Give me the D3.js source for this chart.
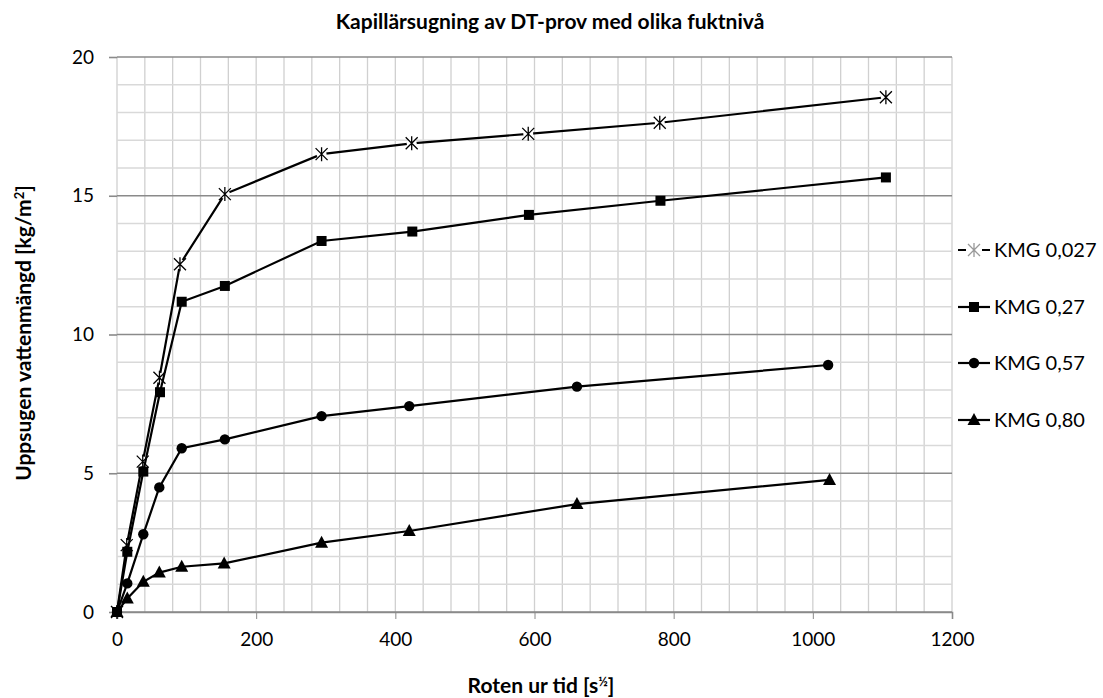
<!DOCTYPE html>
<html><head><meta charset="utf-8">
<script src="https://cdn.jsdelivr.net/npm/d3@7"></script>
<style>body{margin:0;background:#fff}svg{display:block}text{font-family:Lato,"Open Sans",sans-serif;fill:#000}</style>
</head><body>
<svg id="c" width="1103" height="698"></svg>
<script>
const seriesNames = ["KMG 0,027","KMG 0,27","KMG 0,57","KMG 0,80"];
const markerTypes = ["asterisk","square","circle","triangle"];
const xA = [0, 14, 37, 61, 90.5, 155, 294, 423.5, 591, 780, 1105];
const yA = [0, 2.41, 5.42, 8.44, 12.53, 15.06, 16.5, 16.89, 17.23, 17.63, 18.55];
const xB = [0, 14.8, 37.8, 61.8, 93, 155, 294, 424.4, 592, 781, 1105];
const yB = [0, 2.17, 5.06, 7.92, 11.18, 11.75, 13.37, 13.71, 14.31, 14.82, 15.66];
const xC = [0, 14.8, 37.8, 60.8, 93, 155, 294, 420, 661, 1022];
const yC = [0, 1.03, 2.80, 4.49, 5.90, 6.22, 7.06, 7.42, 8.12, 8.90];
const xD = [0, 14.8, 37.8, 60.8, 93, 154, 294, 420, 661, 1024];
const yD = [0, 0.49, 1.09, 1.42, 1.63, 1.75, 2.50, 2.92, 3.89, 4.76];
const xTicks = [0,200,400,600,800,1000,1200];
const yTicks = [0,5,10,15,20];
const title = "Kapillärsugning av DT-prov med olika fuktnivå";

const svg = d3.select("#c");
const x = d3.scaleLinear().domain([0,1200]).range([117,952]);
const y = d3.scaleLinear().domain([0,20]).range([612,57]);

// minor grid
const g = svg.append("g");
g.selectAll(".vx").data(d3.range(0,1201,40)).join("line")
  .attr("x1",d=>x(d)).attr("x2",d=>x(d)).attr("y1",y(0)).attr("y2",y(20))
  .attr("stroke","#d0d0d0").attr("stroke-width",1.3);
g.selectAll(".hy").data(d3.range(0,21,1).filter(d=>d%5!==0)).join("line")
  .attr("x1",x(0)).attr("x2",x(1200)).attr("y1",d=>y(d)).attr("y2",d=>y(d))
  .attr("stroke","#d9d9d9").attr("stroke-width",1.3);
g.selectAll(".hM").data(yTicks).join("line")
  .attr("x1",x(0)).attr("x2",x(1200)).attr("y1",d=>y(d)).attr("y2",d=>y(d))
  .attr("stroke","#8a8a8a").attr("stroke-width",1.6);

// axes
const xAxis = d3.axisBottom(x).tickValues(xTicks).tickSize(7).tickPadding(14).tickFormat(d3.format("d"));
const xg = svg.append("g").attr("transform",`translate(0,${y(0)})`).call(xAxis);
xg.select(".domain").attr("stroke","#8a8a8a").attr("stroke-width",1.6);
xg.selectAll(".tick line").attr("stroke","#8a8a8a");
xg.selectAll("text").attr("font-size",19).attr("font-family","Lato");
const yAxis = d3.axisLeft(y).tickValues(yTicks).tickSize(8).tickPadding(15);
const yg = svg.append("g").attr("transform",`translate(${x(0)},0)`).call(yAxis);
yg.select(".domain").remove();
yg.selectAll(".tick line").attr("stroke","#8a8a8a").attr("stroke-width",1.6);
yg.selectAll("text").attr("font-size",19).attr("font-family","Lato");

// series
const data = [[xA,yA],[xB,yB],[xC,yC],[xD,yD]];
const line = d3.line().x(d=>x(d[0])).y(d=>y(d[1]));
function drawMarker(sel, type, cx, cy, color){
  if(type==="asterisk"){
    const s=6;
    sel.append("path").attr("d",`M${cx-s},${cy-s}L${cx+s},${cy+s}M${cx-s},${cy+s}L${cx+s},${cy-s}M${cx},${cy-s-1}L${cx},${cy+s+1}`)
      .attr("stroke",color||"#000").attr("stroke-width",1.3).attr("fill","none");
  } else if(type==="square"){
    sel.append("rect").attr("x",cx-5).attr("y",cy-5).attr("width",10).attr("height",10).attr("fill","#000");
  } else if(type==="circle"){
    sel.append("circle").attr("cx",cx).attr("cy",cy).attr("r",5.2).attr("fill","#000");
  } else {
    sel.append("path").attr("d",`M${cx},${cy-7}L${cx+6.5},${cy+5}L${cx-6.5},${cy+5}Z`).attr("fill","#000");
  }
}
data.forEach(([xs,ys],i)=>{
  const pts = xs.map((v,j)=>[v,ys[j]]);
  const sg = svg.append("g");
  sg.append("path").datum(pts).attr("d",line).attr("fill","none").attr("stroke","#000").attr("stroke-width",2.2);
  pts.forEach(p=>{
    if(markerTypes[i]==="asterisk"){
      sg.append("circle").attr("cx",x(p[0])).attr("cy",y(p[1])).attr("r",5).attr("fill","#fff");
    }
    drawMarker(sg, markerTypes[i], x(p[0]), y(p[1]));
  });
});

// legend
const leg = svg.append("g");
const legY = [250,307,363,420];
seriesNames.forEach((n,i)=>{
  const ly = legY[i];
  if(i===0){
    leg.append("line").attr("x1",958).attr("x2",966).attr("y1",ly).attr("y2",ly).attr("stroke","#000").attr("stroke-width",2);
    leg.append("line").attr("x1",982).attr("x2",990).attr("y1",ly).attr("y2",ly).attr("stroke","#000").attr("stroke-width",2);
    drawMarker(leg,"asterisk",974,ly,"#999");
  } else {
    leg.append("line").attr("x1",958).attr("x2",990).attr("y1",ly).attr("y2",ly).attr("stroke","#000").attr("stroke-width",2.2);
    drawMarker(leg,markerTypes[i],974,ly);
  }
  leg.append("text").attr("x",994).attr("y",ly).attr("dy","0.36em").attr("font-size",20).text(n);
});

// titles
svg.append("text").attr("x",550).attr("y",29).attr("text-anchor","middle").attr("font-size",21).attr("font-weight","bold").text(title);
const xt = svg.append("text").attr("x",541).attr("y",693).attr("text-anchor","middle").attr("font-size",21).attr("font-weight","bold");
xt.append("tspan").text("Roten ur tid [s");
xt.append("tspan").attr("font-size",13).attr("dy",-7).text("½");
xt.append("tspan").attr("dy",7).text("]");
const yt = svg.append("text").attr("transform","translate(31,333) rotate(-90)").attr("text-anchor","middle").attr("font-size",21).attr("font-weight","bold");
yt.append("tspan").text("Uppsugen vattenmängd [kg/m");
yt.append("tspan").attr("font-size",13).attr("dy",-7).text("2");
yt.append("tspan").attr("dy",7).text("]");
</script>
</body></html>
